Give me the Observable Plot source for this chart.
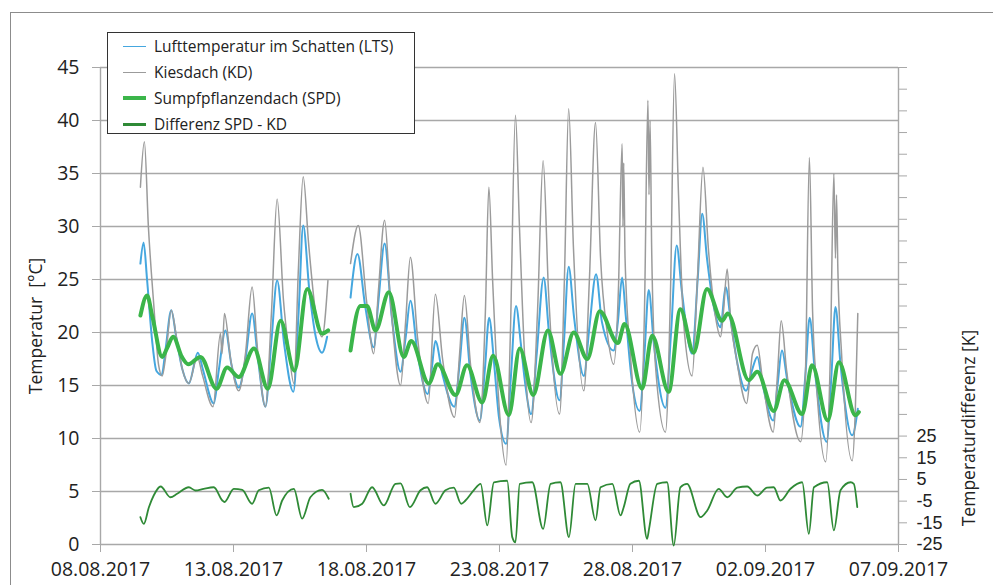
<!DOCTYPE html>
<html>
<head>
<meta charset="utf-8">
<script src="https://cdn.jsdelivr.net/npm/d3@7"></script>
<script src="https://cdn.jsdelivr.net/npm/@observablehq/plot@0.6"></script>
<style>
  html, body { margin: 0; padding: 0; background: #fff; overflow: hidden; }
  body { width: 993px; height: 585px; position: relative; font-family: "Open Sans", sans-serif; color: #222; }
  #frame { position: absolute; left: 10px; top: 12px; width: 1000px; height: 600px; border: 1px solid #8c8c8c; box-sizing: border-box; }
  #chart { position: absolute; left: 0; top: 0; }
  .ttl { position: absolute; font-size: 17.5px; white-space: nowrap; transform: translate(-50%, -50%) rotate(-90deg); }
  #legend { position: absolute; left: 107px; top: 32px; width: 308px; height: 102px; border: 1px solid #333; background: #fff; box-sizing: border-box; }
  .row { position: absolute; left: 0; height: 24px; display: flex; align-items: center; font-size: 15.5px; white-space: nowrap; }
  .sw { width: 23px; margin-left: 15px; margin-right: 8px; }
</style>
</head>
<body>
<div id="frame"></div>
<div id="chart"></div>
<div class="ttl" style="left:35px; top:326px;">Temperatur&nbsp; [°C]</div>
<div class="ttl" style="left:968px; top:428px;">Temperaturdifferenz [K]</div>
<div id="legend"></div>
<script>
// ---- data (days since 08.08.2017 00:00) ----
const seriesNames = ["Lufttemperatur im Schatten (LTS)", "Kiesdach (KD)", "Sumpfpflanzendach (SPD)", "Differenz SPD - KD"];
const xTickLabels = ["08.08.2017", "13.08.2017", "18.08.2017", "23.08.2017", "28.08.2017", "02.09.2017", "07.09.2017"];
const yTicksLeft = [0, 5, 10, 15, 20, 25, 30, 35, 40, 45];
const diffTickLabels = [25, 15, 5, -5, -15, -25];
const diffDomain = [-25, 195];

const kdDays = [1.50,1.65,1.80,2.00,2.18,2.32,2.44,2.66,2.86,3.08,3.32,3.64,3.83,4.23,4.51,4.57,4.66,4.89,5.20,5.45,5.70,5.90,6.20,6.43,6.64,6.88,7.07,7.27,7.44,7.62,7.82,8.08,8.33,8.55,
  9.00,
  9.40,9.69,10.00,10.27,10.45,10.68,10.90,11.28,11.47,11.65,11.92,12.32,12.59,12.86,13.31,13.50,13.68,13.91,14.26,14.47,14.60,14.74,14.96,15.25,15.41,15.60,15.75,15.94,16.19,16.43,16.64,16.84,17.26,17.44,17.60,17.78,18.17,18.38,18.61,18.80,19.05,19.29,19.47,19.61,19.64,19.67,19.72,19.92,20.27,20.45,20.58,20.62,20.66,20.72,20.86,21.24,21.43,21.58,21.73,21.92,22.24,22.44,22.65,22.85,23.12,23.31,23.42,23.56,23.68,23.91,24.29,24.44,24.51,24.69,24.89,25.29,25.45,25.59,25.79,26.32,26.50,26.65,26.77,26.92,27.26,27.44,27.57,27.63,27.67,27.72,27.86,28.26,28.38,28.47];
const kdTemp = [33.7,38.0,30.0,22.7,17.0,15.9,17.5,22.1,19.5,16.5,15.2,17.7,16.0,13.0,19.9,18.0,21.8,17.5,14.5,18.0,24.3,18.5,13.0,22.0,32.6,23.0,18.5,15.2,26.0,34.7,28.5,22.0,19.6,24.9,
  null,
  26.5,30.1,23.0,18.0,24.0,30.6,23.0,15.0,21.0,27.1,19.5,13.3,23.6,17.5,12.0,18.0,23.5,17.0,11.5,22.0,33.7,25.0,14.0,7.5,20.0,40.5,30.0,18.0,11.5,22.0,36.2,24.0,12.3,25.0,41.1,28.0,14.5,25.0,39.8,27.0,20.0,17.0,24.0,37.8,30.0,36.0,27.0,18.0,10.6,22.0,41.9,33.0,40.0,28.0,17.0,10.6,24.0,44.4,33.0,21.0,15.9,25.0,35.6,28.0,21.5,19.6,22.0,26.0,21.5,17.5,13.3,16.5,18.0,18.8,15.5,10.6,16.0,21.1,16.5,9.7,16.0,36.5,22.0,15.0,7.8,18.0,35.0,27.0,33.0,26.0,18.0,7.9,13.0,21.8];

const ltsDays = [1.50,1.62,1.75,1.95,2.10,2.30,2.45,2.66,2.85,3.08,3.32,3.66,3.85,4.26,4.45,4.70,4.92,5.20,5.45,5.70,5.92,6.20,6.42,6.64,6.90,7.25,7.45,7.62,7.85,8.10,8.33,8.52,
  9.00,
  9.40,9.66,9.95,10.27,10.45,10.68,10.95,11.28,11.47,11.65,11.92,12.30,12.45,12.59,12.86,13.30,13.50,13.68,13.91,14.26,14.45,14.61,14.80,14.98,15.25,15.42,15.62,15.80,15.95,16.19,16.40,16.66,16.86,17.26,17.42,17.60,17.80,18.17,18.38,18.63,18.85,19.29,19.45,19.61,19.75,19.95,20.27,20.45,20.61,20.80,21.24,21.45,21.66,21.85,22.24,22.45,22.62,22.80,23.05,23.31,23.50,23.70,23.95,24.27,24.50,24.69,24.90,25.29,25.45,25.62,25.82,26.32,26.50,26.66,26.85,27.30,27.48,27.63,27.82,28.26,28.47];
const ltsTemp = [26.5,28.5,25.0,19.0,16.4,16.0,18.5,22.1,19.5,16.5,15.2,18.1,16.5,13.3,16.5,20.2,17.0,14.8,17.5,21.8,17.5,13.0,19.0,24.9,19.0,14.4,22.0,30.1,24.0,19.5,18.1,19.6,
  null,
  23.3,27.4,22.5,18.6,23.0,28.4,21.5,16.3,19.5,23.0,18.0,14.2,16.5,19.2,16.0,13.0,17.0,21.4,16.0,11.7,16.5,21.4,17.0,12.0,9.5,15.5,22.5,19.0,15.5,12.3,18.0,25.2,20.0,13.6,19.0,26.2,21.5,15.9,20.5,25.5,21.0,18.3,21.0,25.2,21.5,16.0,12.6,18.0,24.0,19.0,12.9,20.0,28.2,24.0,18.0,25.0,31.2,27.0,22.5,20.5,24.3,21.0,17.0,14.5,16.5,17.7,15.0,11.7,15.0,18.3,15.5,11.1,16.0,21.4,16.5,9.7,16.0,22.4,17.0,10.3,12.8];

const spdDays = [1.50,1.75,1.95,2.32,2.50,2.73,3.06,3.30,3.76,4.36,4.76,5.20,5.77,6.29,6.77,7.29,7.77,8.33,8.56,
  9.00,
  9.40,9.77,10.02,10.34,10.84,11.40,11.68,12.34,12.68,13.35,13.78,14.35,14.76,15.35,15.76,16.27,16.82,17.29,17.79,18.30,18.77,19.45,19.70,20.36,20.74,21.36,21.80,22.30,22.80,23.37,23.58,24.37,24.69,25.31,25.71,26.38,26.75,27.34,27.76,28.38,28.51];
const spdTemp = [21.6,23.5,21.5,17.7,18.5,19.6,17.7,17.0,17.7,14.7,16.7,15.8,18.5,14.7,21.1,16.4,24.1,19.9,20.2,
  null,
  18.3,22.5,22.5,20.2,23.8,17.7,19.2,15.2,17.0,14.1,16.9,13.4,17.8,12.2,18.5,14.1,20.2,16.1,20.0,17.5,22.0,19.0,20.8,14.7,19.7,14.4,22.2,18.1,24.1,21.1,21.8,15.5,16.3,12.6,15.5,12.3,16.9,11.7,17.2,12.2,12.5];

const diffDays = [1.50,1.63,1.82,2.00,2.26,2.63,2.88,3.32,3.57,3.88,4.26,4.58,4.66,5.01,5.33,5.70,5.95,6.33,6.62,6.83,7.27,7.58,7.89,8.33,8.58,
  9.00,
  9.40,9.52,9.84,10.21,10.65,11.09,11.28,11.63,12.03,12.28,12.59,12.97,13.28,13.56,13.72,14.03,14.29,14.54,14.79,15.29,15.48,15.60,15.76,16.23,16.64,16.92,17.29,17.61,17.86,18.30,18.61,18.80,19.24,19.55,19.67,19.92,20.24,20.55,20.62,20.93,21.30,21.55,21.80,22.05,22.56,22.81,23.24,23.56,23.94,24.31,24.69,25.06,25.31,25.56,25.94,26.38,26.63,26.82,27.32,27.57,27.82,28.20,28.32,28.45];
const diffK = [-12.4,-15.5,-7.8,-2.4,1.75,-3.2,-1.6,1.4,-0.1,0.7,1.4,-4.7,-5.4,0.7,0.2,-6.2,0.0,1.2,-11.6,-4.7,0.7,-13.1,-3.2,0.2,-3.9,
  null,
  -1.6,-7.8,-6.2,1.4,-7.0,3.0,3.2,-7.8,0.0,1.4,-6.2,0.0,1.2,-6.2,-4.7,0.0,3.0,-16.2,3.7,4.4,-21.6,-24.0,3.0,3.7,-17.8,3.0,3.7,-21.6,3.0,3.0,-13.9,1.4,3.0,-11.6,-7.8,3.0,4.4,-22.4,-18.0,3.0,3.7,-25.5,1.4,3.0,-12.4,-9.3,0.7,-3.2,1.2,1.75,-2.4,1.2,1.4,-4.7,0.7,3.7,-20.1,1.4,3.7,-18.5,0.0,3.7,3.0,-7.8];

const colors = { lts: "#45a7df", kd: "#9b9b9b", spd: "#3bb54a", diff: "#2f8a36" };

// ---- build ----
const t0 = Date.UTC(2017, 7, 8);
const toDate = d => new Date(t0 + d * 864e5);
const parseLabel = s => { const [dd, mm, yy] = s.split(".").map(Number); return new Date(Date.UTC(yy, mm - 1, dd)); };
const xTicks = xTickLabels.map(parseLabel);
const yDomain = [0, 45];
// secondary (right) axis: linear map of K onto the °C scale
const kToC = k => yDomain[0] + (k - diffDomain[0]) / (diffDomain[1] - diffDomain[0]) * (yDomain[1] - yDomain[0]);
const kTicks = d3.range(diffDomain[0], diffDomain[1] + 0.001, 10);

const mk = (days, vals, f) => days.map((d, i) => ({ t: toDate(d), v: vals[i] == null ? NaN : (f ? f(vals[i]) : vals[i]) }));
const lts = mk(ltsDays, ltsTemp);
const kd = mk(kdDays, kdTemp);
const spd = mk(spdDays, spdTemp);
const diff = mk(diffDays, diffK, kToC);
const diffLabelData = diffTickLabels.map(k => ({ c: kToC(k), label: String(k) }));

const fmtDate = d => xTickLabels[xTicks.findIndex(x => +x === +d)];

const chart = Plot.plot({
  width: 993, height: 585,
  marginLeft: 100, marginRight: 95, marginTop: 67, marginBottom: 41,
  x: { type: "utc", domain: [xTicks[0], xTicks[xTicks.length - 1]] },
  y: { domain: yDomain },
  style: { fontFamily: "'Open Sans', sans-serif", fontSize: "19.5px", color: "#222", background: "transparent", overflow: "visible" },
  marks: [
    Plot.gridY(yTicksLeft, { stroke: "#a8a8a8", strokeOpacity: 1, strokeWidth: 1.4 }),
    Plot.ruleX([xTicks[0], xTicks[xTicks.length - 1]], { stroke: "#a8a8a8", strokeWidth: 1.4 }),
    Plot.axisY(yTicksLeft, { anchor: "left", tickSize: 8, tickPadding: 13, label: null, stroke: "#a8a8a8", fill: "#222" }),
    // right axis: tick marks every 10 K (no text) ...
    Plot.axisY(kTicks.map(kToC), { anchor: "right", tickSize: 8, label: null, stroke: "#a8a8a8", fill: "none" }),
    // ... and labels only for -25 .. 25
    Plot.text(diffLabelData, { x: xTicks[xTicks.length - 1], y: "c", text: "label", textAnchor: "start", dx: 18, fontSize: 18, fontFamily: "'Liberation Sans', sans-serif", fill: "#222" }),
    Plot.axisX(xTicks, { anchor: "bottom", tickSize: 8, tickPadding: 10, label: null, stroke: "#a8a8a8", fill: "#222", tickFormat: fmtDate }),
    Plot.line(lts, { x: "t", y: "v", stroke: colors.lts, strokeWidth: 2, curve: "monotone-x" }),
    Plot.line(kd, { x: "t", y: "v", stroke: colors.kd, strokeWidth: 1.5, curve: "monotone-x" }),
    Plot.line(spd, { x: "t", y: "v", stroke: colors.spd, strokeWidth: 4, curve: "monotone-x" }),
    Plot.line(diff, { x: "t", y: "v", stroke: colors.diff, strokeWidth: 1.8, curve: "monotone-x" })
  ]
});
document.getElementById("chart").appendChild(chart);

// legend
const legend = document.getElementById("legend");
const legendStyles = [
  { c: colors.lts, w: 1.5 }, { c: colors.kd, w: 1.5 }, { c: colors.spd, w: 4 }, { c: colors.diff, w: 3 }
];
seriesNames.forEach((name, i) => {
  const row = document.createElement("div");
  row.className = "row";
  row.style.top = (1 + i * 26) + "px";
  const sw = document.createElement("div");
  sw.className = "sw";
  sw.style.borderTop = legendStyles[i].w + "px solid " + legendStyles[i].c;
  const tx = document.createElement("span");
  tx.textContent = name;
  row.appendChild(sw); row.appendChild(tx);
  legend.appendChild(row);
});
</script>
</body>
</html>
